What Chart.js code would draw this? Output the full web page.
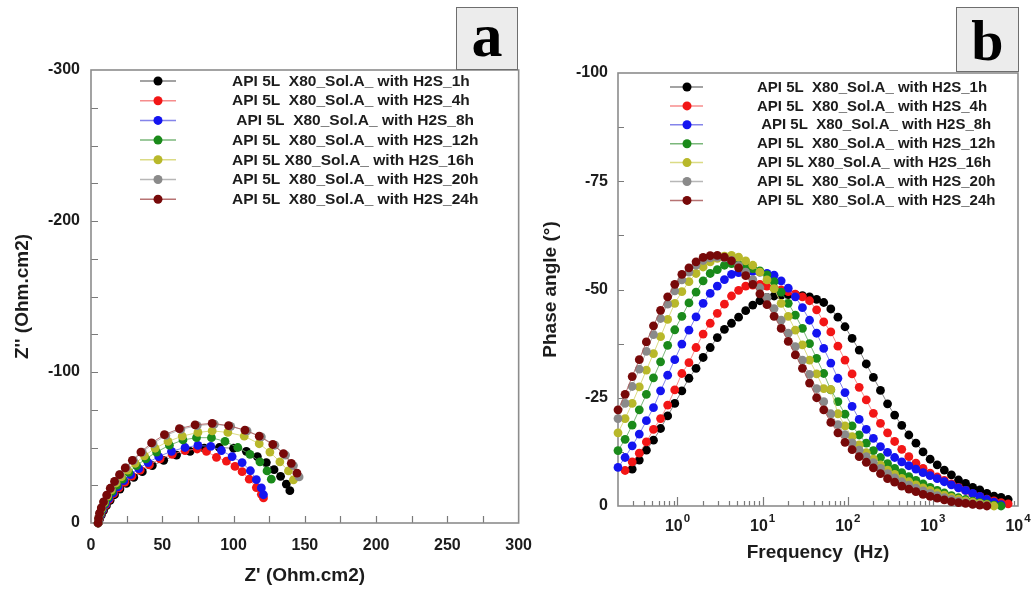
<!DOCTYPE html>
<html><head><meta charset="utf-8">
<script src="https://cdn.jsdelivr.net/npm/chart.js@4.4.1/dist/chart.umd.min.js"></script>
<style>
html,body{margin:0;padding:0;background:#fff;}
body{width:1033px;height:593px;position:relative;overflow:hidden;}
canvas{position:absolute;top:0;}
#ca{left:0;}
#cb{left:520px;}
.tag{position:absolute;box-sizing:border-box;background:#ececec;border:1.5px solid #6e6e6e;font-family:'Liberation Serif','DejaVu Serif',serif;font-weight:bold;color:#000;text-align:center;}
</style></head><body>
<canvas id="ca" width="545" height="593"></canvas>
<canvas id="cb" width="513" height="593"></canvas>
<div class="tag" style="left:456px;top:7px;width:62px;height:63px;font-size:62px;line-height:54px;">a</div>
<div class="tag" style="left:956px;top:7px;width:63px;height:65px;font-size:58px;line-height:66px;">b</div>
<script>
// ---------- shared series info ----------
const seriesLabels = [
  'API 5L  X80_Sol.A_ with H2S_1h',
  'API 5L  X80_Sol.A_ with H2S_4h',
  ' API 5L  X80_Sol.A_ with H2S_8h',
  'API 5L  X80_Sol.A_ with H2S_12h',
  'API 5L X80_Sol.A_ with H2S_16h',
  'API 5L  X80_Sol.A_ with H2S_20h',
  'API 5L  X80_Sol.A_ with H2S_24h'
];
const seriesColors = ['#000000', '#f21616', '#1414f0', '#1a8a1a', '#b8b82a', '#8a8a8a', '#770909'];
const lineColors = ['rgba(110,110,110,0.85)', 'rgba(245,120,120,0.85)', 'rgba(110,110,230,0.85)', 'rgba(100,170,100,0.85)', 'rgba(215,215,120,0.9)', 'rgba(175,175,175,0.9)', 'rgba(170,90,90,0.85)'];

// ---------- Nyquist (panel a): Z' and Z'' in Ohm.cm2 ----------
const nyqRe1h  = [5,6,7.2,8.8,10.8,13.4,16.5,20.3,24.8,30,36,43,51,60,69.5,79.5,90,100,109,116.7,123,128.4,133,137,139.5];
const nyqIm1h  = [0,-2.5,-5.2,-8.2,-11.5,-15,-18.7,-22.5,-26.3,-30.2,-34,-38,-41.5,-45,-47.5,-49.5,-50,-49.5,-47.5,-44,-40,-35.3,-30.9,-25.8,-21.4];
const nyqRe4h  = [5,5.8,6.9,8.4,10.4,12.9,15.9,19.6,23.8,28.7,34.5,41,48.5,57,66,74.5,81,88,95,101,106,111,116,119.5,121];
const nyqIm4h  = [0,-2.7,-5.5,-8.7,-12,-15.7,-19.4,-23.2,-27,-31,-35,-38.5,-42.5,-45.5,-48,-49,-47.5,-43.5,-41,-37.5,-34,-29,-23.5,-19,-16.6];
const nyqRe8h  = [5,5.7,6.7,8.2,10.1,12.5,15.4,19,23,27.8,33.5,40,47.5,56.5,66,75,84,91.5,99,106,111.8,116,119.5,121];
const nyqIm8h  = [0,-2.8,-5.7,-9,-12.5,-16.2,-20,-24,-28,-32,-36,-40,-44,-47.5,-50,-51.4,-50.7,-48,-44,-40,-34.6,-28.7,-23.2,-18.7];
const nyqRe12h = [5,5.6,6.5,7.9,9.7,12,14.8,18.2,22,26.5,32,38.5,46,55,64.5,74,84.5,94,103,111.5,118.5,123.5,126.5];
const nyqIm12h = [0,-3,-6,-9.3,-13,-17,-21,-25,-29,-33.5,-38,-42.5,-47,-51.5,-55,-56.5,-56.5,-54,-50,-45.5,-40.5,-34.5,-29];
const nyqRe16h = [5,5.5,6.3,7.6,9.3,11.6,14.3,17.6,21.3,25.7,31,37.5,45,54,64,75,85,96,107.5,118,125.5,132.5,138.5,142];
const nyqIm16h = [0,-3,-6.3,-9.8,-13.5,-17.8,-22,-26.5,-30.5,-35,-39.5,-44.5,-49.5,-54,-57.5,-60,-61,-60,-57.5,-52.5,-47,-40.5,-34.5,-28.5];
const nyqRe20h = [5,5.4,6.1,7.4,9,11.3,13.8,17,20.5,24.7,29.8,36,43.5,52.5,63,74.5,86.5,98,109.5,119.5,129,136.5,142,146];
const nyqIm20h = [0,-3,-6.5,-10,-14,-18.5,-23,-27.5,-32,-36.5,-41.5,-47,-52.5,-58,-62,-64.5,-65.5,-64,-61,-57,-51.5,-45,-38,-30.5];
const nyqRe24h = [5,5.3,6,7.2,8.8,11,13.5,16.5,20,24,29,35,42.5,51.5,62,73,85,96.5,108,118,127.5,135,140.5,144.5];
const nyqIm24h = [0,-3,-6.5,-10,-14,-18.5,-23,-27.5,-32,-36.5,-41.5,-47,-53,-58.5,-62.5,-65,-66,-64.5,-61.5,-57.5,-52,-46,-39.5,-33];
const nyqXLabelTicks = [0, 50, 100, 150, 200, 250, 300];
const nyqYLabelTicks = [0, -100, -200, -300];

// ---------- Bode phase (panel b) ----------
const frequencies = [0.2,0.2423,0.2935,0.3557,0.4309,0.5221,0.6325,0.7663,0.9283,1.125,
  1.363,1.651,2.0,2.423,2.935,3.557,4.309,5.221,6.325,7.663,
  9.283,11.25,13.63,16.51,20.0,24.23,29.35,35.57,43.09,52.21,
  63.25,76.63,92.83,112.5,136.3,165.1,200,242.3,293.5,355.7,
  430.9,522.1,632.5,766.3,928.3,1125,1363,1651,2000,2423,
  2935,3557,4309,5221,6325,7663];
const phase1h = [null,null,-8.5,-10.6,-12.9,-15.2,-17.9,-20.8,-23.7,-26.6,
  -29.5,-31.8,-34.3,-36.6,-38.9,-40.8,-42.2,-43.6,-45.1,-46.4,
  -47.4,-48.2,-48.5,-48.7,-48.8,-48.8,-48.6,-48.3,-47.7,-47.0,
  -45.5,-43.6,-41.4,-38.7,-36.0,-32.8,-29.7,-26.7,-23.6,-21.0,
  -18.6,-16.4,-14.5,-12.5,-10.8,-9.5,-8.3,-7.2,-6.0,-5.2,
  -4.3,-3.7,-2.9,-2.3,-2.0,-1.5];
const phase4h = [null,-8.2,-10.2,-12.2,-14.8,-17.7,-20.2,-23.3,-26.8,-30.6,
  -33.1,-36.6,-39.7,-42.2,-44.5,-46.6,-48.5,-49.8,-50.8,-51.0,
  -51.2,-50.8,-50.3,-49.9,-49.5,-48.9,-48.3,-47.4,-45.3,-42.5,
  -40.2,-36.9,-33.7,-30.5,-27.4,-24.5,-21.4,-19.1,-16.9,-14.9,
  -13.1,-11.4,-9.9,-8.7,-7.6,-6.7,-5.9,-5.1,-4.3,-3.6,
  -2.8,-2.2,-1.6,-1.2,-0.8,-0.5];
const phase8h = [-8.9,-11.2,-13.9,-16.6,-19.7,-22.7,-26.6,-30.2,-33.8,-37.4,
  -40.6,-43.7,-46.8,-49.1,-50.8,-52.3,-53.5,-53.9,-54.1,-54.2,
  -54.0,-53.7,-53.3,-52.0,-50.3,-48.3,-45.8,-42.9,-39.9,-36.4,
  -33.0,-29.5,-26.2,-23.0,-20.0,-17.7,-15.6,-13.7,-12.4,-11.2,
  -10.2,-9.3,-8.5,-7.7,-7.0,-6.3,-5.6,-4.9,-4.2,-3.6,
  -2.9,-2.2,-1.5,-0.9,-0.3,null];
const phase12h = [-12.8,-15.4,-18.7,-22.2,-25.8,-29.6,-33.3,-37.1,-40.7,-43.8,
  -46.9,-49.4,-52.0,-53.7,-54.6,-55.6,-56.0,-55.8,-55.2,-54.8,
  -54.3,-53.4,-51.8,-49.4,-46.8,-44.1,-41.0,-37.5,-34.1,-30.6,
  -26.8,-24.1,-21.2,-18.5,-16.4,-14.5,-12.8,-11.2,-9.8,-8.7,
  -7.7,-6.8,-5.9,-5.1,-4.3,-3.6,-3.0,-2.4,-1.9,-1.5,
  -1.1,-0.8,-0.5,-0.2,0.0,null];
const phase16h = [-16.9,-20.2,-23.7,-27.5,-31.4,-35.2,-39.1,-43.1,-46.8,-49.5,
  -51.8,-53.7,-55.2,-56.4,-57.2,-57.7,-57.9,-57.5,-56.6,-55.6,
  -54.0,-52.2,-50.2,-46.8,-43.8,-40.6,-37.2,-33.7,-30.5,-27.1,
  -26.9,-21.3,-18.5,-16.0,-14.1,-12.3,-10.8,-9.5,-8.3,-7.3,
  -6.4,-5.6,-4.9,-4.2,-3.6,-3.0,-2.5,-2.0,-1.6,-1.2,
  -0.9,-0.6,-0.3,0.0,null,null];
const phase20h = [-20.2,-23.7,-27.6,-31.6,-35.7,-39.6,-43.3,-46.6,-49.7,-52.2,
  -54.0,-55.6,-56.7,-57.3,-57.5,-57.3,-56.7,-55.5,-54.0,-52.3,
  -50.4,-48.2,-45.6,-42.9,-39.9,-36.8,-33.7,-30.4,-27.1,-24.1,
  -21.3,-18.8,-16.5,-14.6,-12.9,-11.4,-10.0,-8.7,-7.5,-6.5,
  -5.6,-4.8,-4.1,-3.5,-2.9,-2.4,-1.9,-1.5,-1.1,-0.8,
  -0.5,-0.3,-0.1,null,null,null];
const phase24h = [-22.2,-25.8,-29.9,-33.8,-37.9,-41.6,-45.2,-48.3,-51.2,-53.5,
  -55.0,-56.4,-57.4,-57.8,-57.9,-57.5,-56.6,-55.0,-53.2,-51.2,
  -49.0,-46.5,-43.8,-41.0,-38.0,-34.9,-31.8,-28.4,-25.0,-22.2,
  -19.3,-16.9,-14.7,-13.0,-11.4,-10.1,-8.8,-7.5,-6.3,-5.5,
  -4.6,-3.9,-3.3,-2.7,-2.2,-1.8,-1.4,-1.0,-0.8,-0.6,
  -0.4,-0.2,0.0,null,null,null];
const bodeXTickValues = [1, 10, 100, 1000, 10000];
const bodeXTickBase = '10';
const bodeXTickExponents = ['0', '1', '2', '3', '4'];
const bodeYLabelTicks = [0, -25, -50, -75, -100];

// ---------- helpers ----------
const FONT = "'Liberation Sans', Arial, Helvetica, sans-serif";
const TXT = '#1c1c1c';

function nyqSet(i, re, im) {
  return {
    label: seriesLabels[i],
    data: re.map((x, j) => ({ x: x, y: im[j] })),
    showLine: true, borderColor: lineColors[i], borderWidth: 1,
    pointRadius: 4.4, pointBorderWidth: 0, pointBackgroundColor: seriesColors[i], pointBorderColor: seriesColors[i],
    order: 6 - i, clip: 8
  };
}
function bodeSet(i, ph) {
  const pts = [];
  ph.forEach((v, j) => { if (v !== null) pts.push({ x: frequencies[j], y: v }); });
  return {
    label: seriesLabels[i], data: pts,
    showLine: true, borderColor: lineColors[i], borderWidth: 1,
    pointRadius: 4.4, pointBorderWidth: 0, pointBackgroundColor: seriesColors[i], pointBorderColor: seriesColors[i],
    order: 6 - i, clip: 8
  };
}

function makeDecor(cfg) {
  return {
    id: 'decor',
    beforeDatasetsDraw(chart) {
      const { ctx, chartArea: a } = chart;
      const xs = chart.scales.x, ys = chart.scales.y;
      ctx.save();
      ctx.strokeStyle = '#7a7a7a'; ctx.lineWidth = 1.2;
      ctx.beginPath();
      xs.ticks.forEach(t => {
        const px = Math.round(xs.getPixelForValue(t.value)) + 0.5;
        if (px < a.left + 2 || px > a.right - 2) return;
        const len = cfg.xTickLen(t.value);
        ctx.moveTo(px, a.bottom); ctx.lineTo(px, a.bottom - len);
      });
      ys.ticks.forEach(t => {
        const py = Math.round(ys.getPixelForValue(t.value)) + 0.5;
        if (py < a.top + 2 || py > a.bottom - 2) return;
        ctx.moveTo(a.left, py); ctx.lineTo(a.left + cfg.yTickLen, py);
      });
      ctx.stroke();
      ctx.strokeStyle = '#8c8c8c'; ctx.lineWidth = 1.6;
      ctx.strokeRect(a.left, a.top, a.right - a.left, a.bottom - a.top);
      ctx.restore();
    },
    afterDraw(chart) {
      const { ctx, chartArea: a } = chart;
      const L = cfg.legend;
      ctx.save();
      seriesLabels.forEach((lab, i) => {
        const y = L.y0 + i * L.dy;
        ctx.strokeStyle = lineColors[i]; ctx.lineWidth = 1.5;
        ctx.beginPath(); ctx.moveTo(L.x1, y); ctx.lineTo(L.x2, y); ctx.stroke();
        ctx.fillStyle = seriesColors[i];
        ctx.beginPath(); ctx.arc(L.mx, y, 4.5, 0, Math.PI * 2); ctx.fill();
        ctx.fillStyle = TXT; ctx.font = 'bold ' + L.size + 'px ' + FONT;
        ctx.textBaseline = 'middle'; ctx.textAlign = 'left';
        ctx.fillText(lab, L.tx, y + 0.5);
      });
      if (cfg.powerLabels) {
        // decade labels 10^n with a raised exponent, positioned by the x scale
        const xs = chart.scales.x;
        const baseFont = 'bold 16px ' + FONT, expFont = 'bold 11.5px ' + FONT;
        ctx.fillStyle = TXT; ctx.textAlign = 'left'; ctx.textBaseline = 'alphabetic';
        bodeXTickValues.forEach((v, k) => {
          const px = xs.getPixelForValue(v);
          ctx.font = baseFont; const w1 = ctx.measureText(bodeXTickBase).width;
          ctx.font = expFont; const w2 = ctx.measureText(bodeXTickExponents[k]).width;
          const x0 = px - (w1 + w2 + 1) / 2;
          ctx.font = baseFont; ctx.fillText(bodeXTickBase, x0, a.bottom + 25);
          ctx.font = expFont; ctx.fillText(bodeXTickExponents[k], x0 + w1 + 1, a.bottom + 16);
        });
      }
      ctx.restore();
    }
  };
}

function axisFont(s) { return { family: FONT, size: s, weight: 'bold' }; }

// ---------- panel a ----------
new Chart(document.getElementById('ca'), {
  type: 'scatter',
  data: { datasets: [
    nyqSet(0, nyqRe1h, nyqIm1h), nyqSet(1, nyqRe4h, nyqIm4h), nyqSet(2, nyqRe8h, nyqIm8h),
    nyqSet(3, nyqRe12h, nyqIm12h), nyqSet(4, nyqRe16h, nyqIm16h), nyqSet(5, nyqRe20h, nyqIm20h),
    nyqSet(6, nyqRe24h, nyqIm24h)
  ] },
  options: {
    responsive: false, animation: false, events: [],
    layout: { padding: { top: 70, right: 25, left: 0, bottom: 0 } },
    plugins: { legend: { display: false }, tooltip: { enabled: false } },
    scales: {
      x: {
        type: 'linear', min: 0, max: 300,
        grid: { display: false, drawTicks: false }, border: { display: false },
        ticks: { stepSize: 25, autoSkip: false, maxRotation: 0, padding: 13, color: TXT, font: axisFont(16),
          callback: v => nyqXLabelTicks.includes(v) ? String(v) : '' },
        title: { display: true, text: "Z' (Ohm.cm2)", color: TXT, font: axisFont(19), padding: { top: 0, bottom: 6 } },
        afterFit: s => { s.height = 70; }
      },
      y: {
        type: 'linear', min: -300, max: 0, reverse: true,
        grid: { display: false, drawTicks: false }, border: { display: false },
        ticks: { stepSize: 25, autoSkip: false, padding: 11, color: TXT, font: axisFont(16),
          callback: v => nyqYLabelTicks.includes(v) ? String(v) : '' },
        title: { display: true, text: "Z'' (Ohm.cm2)", color: TXT, font: axisFont(19), padding: { top: 11, bottom: 0 } },
        afterFit: s => { s.width = 91; }
      }
    }
  },
  plugins: [makeDecor({
    xTickLen: () => 7, yTickLen: 7, powerLabels: false,
    legend: { x1: 140, x2: 176, mx: 158, tx: 232, y0: 81, dy: 19.7, size: 15.5 }
  })]
});

// ---------- panel b ----------
new Chart(document.getElementById('cb'), {
  type: 'scatter',
  data: { datasets: [
    bodeSet(0, phase1h), bodeSet(1, phase4h), bodeSet(2, phase8h), bodeSet(3, phase12h),
    bodeSet(4, phase16h), bodeSet(5, phase20h), bodeSet(6, phase24h)
  ] },
  options: {
    responsive: false, animation: false, events: [],
    layout: { padding: { top: 73, right: 15, left: 0, bottom: 0 } },
    plugins: { legend: { display: false }, tooltip: { enabled: false } },
    scales: {
      x: {
        type: 'logarithmic', min: 0.2, max: 10000,
        grid: { display: false, drawTicks: false }, border: { display: false },
        afterBuildTicks: s => {
          const t = [];
          for (let e = -1; e <= 4; e++) {
            for (let m = 1; m <= 9; m++) {
              const v = parseFloat((m * Math.pow(10, e)).toPrecision(6));
              if (v >= 0.2 && v <= 10000) t.push({ value: v });
            }
          }
          s.ticks = t;
        },
        ticks: { autoSkip: false, maxRotation: 0, padding: 7, color: TXT, font: axisFont(16),
          callback: () => '' },
        title: { display: true, text: 'Frequency  (Hz)', color: TXT, font: axisFont(19), padding: { top: 0, bottom: 29 } },
        afterFit: s => { s.height = 87; }
      },
      y: {
        type: 'linear', min: -100, max: 0, reverse: true,
        grid: { display: false, drawTicks: false }, border: { display: false },
        ticks: { stepSize: 12.5, autoSkip: false, padding: 10, color: TXT, font: axisFont(16),
          callback: v => bodeYLabelTicks.includes(v) ? String(v) : '' },
        title: { display: true, text: 'Phase angle (\u00B0)', color: TXT, font: axisFont(19), padding: { top: 19, bottom: 0 } },
        afterFit: s => { s.width = 98; }
      }
    }
  },
  plugins: [makeDecor({
    xTickLen: v => { const l = Math.log10(v); return Math.abs(l - Math.round(l)) < 1e-6 ? 9 : 5; },
    yTickLen: 6, powerLabels: true,
    legend: { x1: 150, x2: 183, mx: 167, tx: 237, y0: 87, dy: 18.9, size: 15 }
  })]
});
</script>
</body></html>
